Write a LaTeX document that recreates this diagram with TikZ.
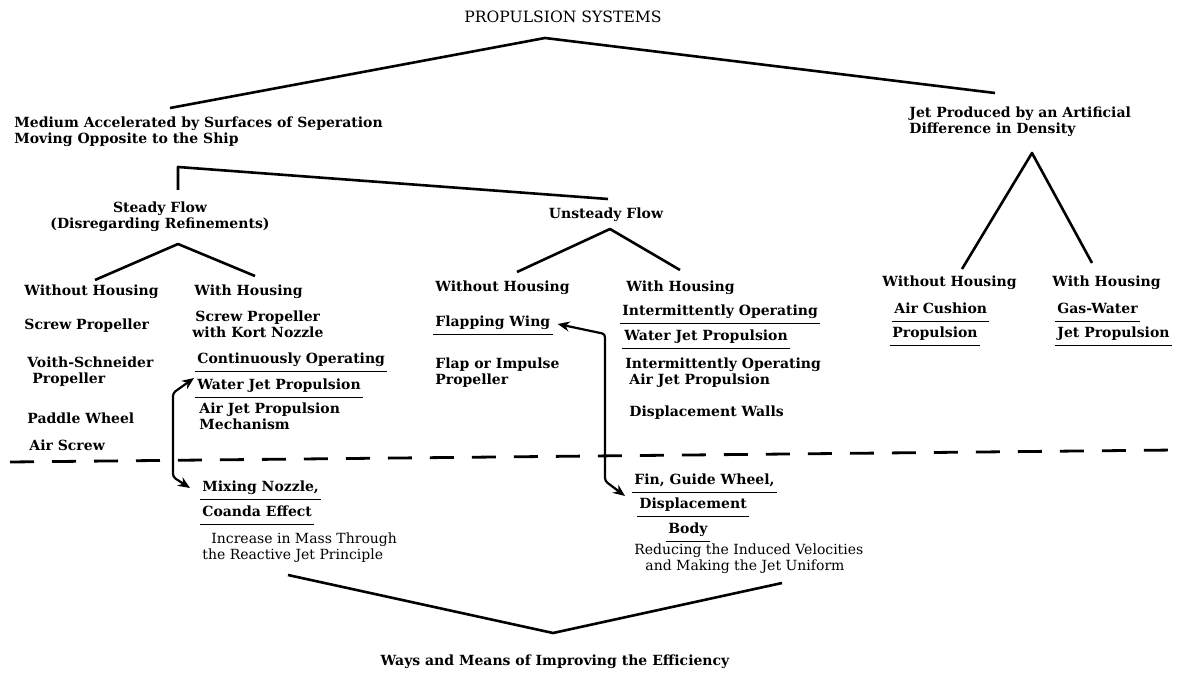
\documentclass[tikz,border=0pt]{standalone}
\usepackage{fontspec}
\setmainfont{DejaVu Serif}
\usetikzlibrary{arrows.meta}

\begin{document}
\begin{tikzpicture}[
      x=0.5pt, y=-0.5pt,
      T/.style={font=\fontsize{7}{8}\selectfont\bfseries, inner sep=1pt, anchor=west, align=left},
      R/.style={T, font=\fontsize{7}{8}\selectfont},
      UL/.style={T, text height=1.6ex, text depth=0.55ex},
      L/.style={line width=1.3pt, line join=round},
      U/.style={line width=0.8pt},
      D/.style={line width=1.4pt, dash pattern=on 12pt off 9pt},
      A/.style={line width=1.1pt, rounded corners=1.5pt,
        {Stealth[length=6pt,width=5pt]}-{Stealth[length=6pt,width=5pt]}}
    ]
    \useasboundingbox (0,0) rectangle (1181,673);

    % top levels
    \node (title) [font=\fontsize{7.8}{9}\selectfont, inner sep=1pt] at (563,17) {PROPULSION SYSTEMS};
    \node (medium) [T] at (12,131.5) {Medium Accelerated by Surfaces of Seperation\\Moving Opposite to the Ship};
    \node (jet) [T] at (907,122) {Jet Produced by an Artificial\\Difference in Density};
    \node (steady) [T, anchor=center, align=center] at (160,216.5) {Steady Flow\\(Disregarding Refinements)};
    \node (unsteady) [T, anchor=center] at (606,215) {Unsteady Flow};

    % steady flow
    \node (woS) [T] at (22,292) {Without Housing};
    \node (screw) [T] at (22,326) {Screw Propeller};
    \node (voith) [T] at (25,372) {Voith-Schneider\\\hspace*{2.5pt}Propeller};
    \node (paddle) [T] at (25,418) {Paddle Wheel};
    \node (airscrew) [T] at (27,445) {Air Screw};
    \node (wiS) [T] at (192,292) {With Housing};
    \node (kort) [T] at (190,324) {\hspace*{1.5pt}Screw Propeller\\with Kort Nozzle};
    \node (cont) [UL] at (195,358) {Continuously Operating};
    \node (wjetS) [UL] at (195,384) {Water Jet Propulsion};
    \node (airjet) [T] at (197,416.5) {Air Jet Propulsion\\Mechanism};

    % unsteady flow
    \node (woU) [T] at (433,288) {Without Housing};
    \node (flap) [UL] at (433,321) {Flapping Wing};
    \node (impulse) [T] at (433,372.5) {Flap or Impulse\\Propeller};
    \node (wiU) [T] at (624,288) {With Housing};
    \node (inter) [UL] at (620,310) {Intermittently Operating};
    \node (wjetU) [UL] at (622,335) {Water Jet Propulsion};
    \node (interair) [T] at (623,372.5) {Intermittently Operating\\\hspace*{2pt}Air Jet Propulsion};
    \node (walls) [T] at (627,413) {Displacement Walls};

    % density jet
    \node (woJ) [T] at (880,283) {Without Housing};
    \node (aircush) [UL] at (892,308) {Air Cushion};
    \node (cushprop) [UL] at (890,332) {Propulsion};
    \node (wiJ) [T] at (1050,283) {With Housing};
    \node (gaswat) [UL] at (1055,308) {Gas-Water};
    \node (jetprop) [UL] at (1055,332) {Jet Propulsion};

    % efficiency
    \node (mix) [UL] at (200,486) {Mixing Nozzle,};
    \node (coanda) [UL] at (200,511) {Coanda Effect};
    \node (mass) [R] at (200,547.5) {\hspace*{4.5pt}Increase in Mass Through\\the Reactive Jet Principle};
    \node (fin) [UL] at (632,479) {Fin, Guide Wheel,};
    \node (disp) [UL] at (637,503) {Displacement};
    \node (body) [UL] at (666,528) {Body};
    \node (reduce) [R] at (632,558.5) {Reducing the Induced Velocities\\\hspace*{5.5pt}and Making the Jet Uniform};
    \node (ways) [T, anchor=center] at (555,662) {Ways and Means of Improving the Efficiency};

    \foreach \n in {cont,wjetS,flap,inter,wjetU,aircush,cushprop,gaswat,jetprop,mix,coanda,fin,disp,body}
      \draw [U] (\n.south west) -- (\n.south east);

    % tree lines
    \coordinate (top) at (545,38);
    \coordinate (mA) at (170,108);
    \coordinate (jA) at (995,93);
    \draw [L] (mA) -- (top) -- (jA);
    \coordinate (sB) at (178,190);
    \coordinate (sC) at (178,167);
    \coordinate (uB) at (608,199);
    \draw [L] (sB) -- (sC) -- (uB);
    \coordinate (sV) at (178,244);
    \draw [L] (95,280) coordinate (sVl) -- (sV) -- (255,276) coordinate (sVr);
    \coordinate (uV) at (610,229);
    \draw [L] (517,272) coordinate (uVl) -- (uV) -- (680,270) coordinate (uVr);
    \coordinate (jV) at (1032,153);
    \draw [L] (962,269) coordinate (jVl) -- (jV) -- (1092,263) coordinate (jVr);
    \coordinate (wV) at (553,633);
    \draw [L] (288,575) coordinate (wVl) -- (wV) -- (782,583) coordinate (wVr);

    % dividing line
    \coordinate (dL) at (10,462);
    \coordinate (dR) at (1175,450);
    \draw [D] (dL) -- (dR);

    % arrows
    \draw [A] ([shift={(-1,-6)}]wjetS.west) -- (173,393) -- (173,477) -- ([shift={(-10,2)}]mix.west);
    \draw [A] ([shift={(5,3)}]flap.east) -- (605,334) -- (605,481) -- ([shift={(-7,17)}]fin.west);
  \end{tikzpicture}
\end{document}
